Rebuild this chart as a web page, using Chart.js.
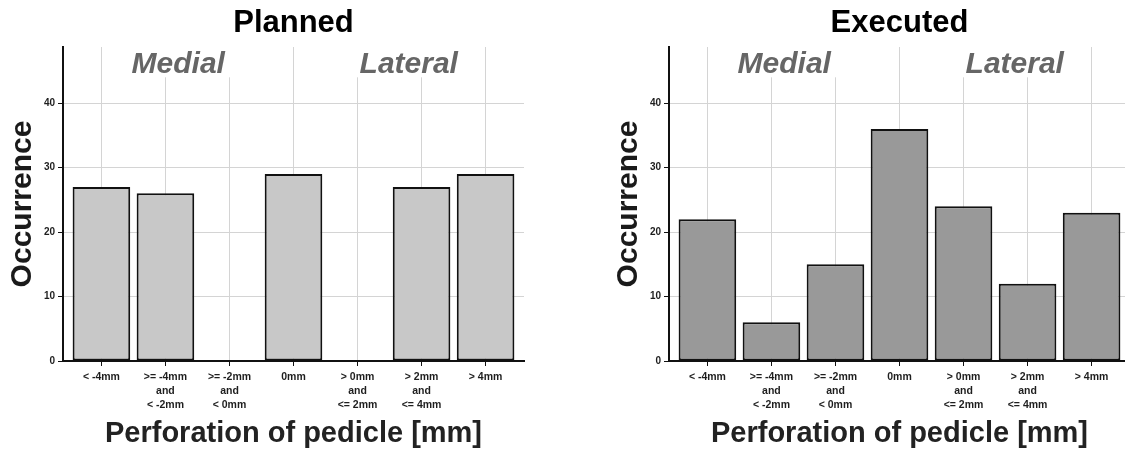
<!DOCTYPE html>
<html>
<head>
<meta charset="utf-8">
<script src="https://cdn.jsdelivr.net/npm/chart.js@4.4.1/dist/chart.umd.min.js"></script>
<style>
  html, body { margin: 0; padding: 0; background: #fff; }
  body { width: 1125px; height: 450px; overflow: hidden; position: relative; }
  .box { position: absolute; top: 0; width: 560px; height: 450px; }
</style>
</head>
<body>
<div class="box" style="left:0px"><canvas id="planned" width="560" height="450"></canvas></div>
<div class="box" style="left:606px"><canvas id="executed" width="560" height="450"></canvas></div>
<script>
// categories (one entry per bar, line breaks as \n)
var categories = ["< -4mm", ">= -4mm\nand\n< -2mm", ">= -2mm\nand\n< 0mm", "0mm",
  "> 0mm\nand\n<= 2mm", "> 2mm\nand\n<= 4mm", "> 4mm"];
var plannedValues = [27, 26, 0, 29, 0, 27, 29];
var executedValues = [22, 6, 15, 36, 24, 12, 23];
var yTicks = [0, 10, 20, 30, 40];
// group labels over the bars, centred at a category index
var regionLabels = ["Medial", "Lateral"];
var regionCenters = [1.2, 4.8];

var FONT = "'Liberation Sans', Arial, Helvetica, sans-serif";

// white box behind the group labels + the labels themselves
var regionPlugin = {
  id: "regions",
  beforeDatasetsDraw: function (chart) {
    var ctx = chart.ctx;
    var xs = chart.scales.x;
    var ys = chart.scales.y;
    var top = chart.chartArea.top;
    ctx.save();
    for (var i = 0; i < regionLabels.length; i++) {
      var x1 = xs.getPixelForValue(regionCenters[i] - 0.9);
      var x2 = xs.getPixelForValue(regionCenters[i] + 0.9);
      ctx.fillStyle = "#ffffff";
      ctx.fillRect(x1, top, x2 - x1, ys.getPixelForValue(44) - top);
      ctx.fillStyle = "#666666";
      ctx.font = "italic bold 30px " + FONT;
      ctx.textAlign = "center";
      ctx.textBaseline = "alphabetic";
      ctx.fillText(regionLabels[i], xs.getPixelForValue(regionCenters[i]), ys.getPixelForValue(44.6));
    }
    ctx.restore();
  }
};

function makeChart(id, title, values, color) {
  var points = values.map(function (v, i) { return { x: i, y: v }; });
  return new Chart(document.getElementById(id), {
    type: "bar",
    data: {
      datasets: [{
        data: points,
        backgroundColor: color,
        borderColor: "#111111",
        borderWidth: 2,
        borderSkipped: false,
        barPercentage: 0.9,
        categoryPercentage: 1
      }]
    },
    options: {
      responsive: false,
      animation: false,
      devicePixelRatio: 1,
      layout: { padding: { left: 0, right: 36, top: 0, bottom: 0 } },
      plugins: { legend: { display: false }, tooltip: { enabled: false } },
      scales: {
        x: {
          type: "linear",
          min: -0.6,
          max: 6.6,
          offset: false,
          afterBuildTicks: function (s) {
            s.ticks = categories.map(function (c, i) { return { value: i }; });
          },
          afterFit: function (s) { s.height = 89; },
          grid: { offset: false, color: "#d4d4d4", lineWidth: 1, tickColor: "#111111", tickLength: 5 },
          border: { display: true, color: "#111111", width: 2 },
          ticks: {
            autoSkip: false,
            maxRotation: 0,
            padding: 4,
            color: "#1e1e1e",
            font: { family: FONT, size: 10.5, weight: "bold", lineHeight: 1.35 },
            callback: function (v) { return categories[v].split("\n"); }
          },
          title: {
            display: true,
            text: "Perforation of pedicle [mm]",
            color: "#222222",
            padding: { top: 0, bottom: 1.5 },
            font: { family: FONT, size: 29, weight: "bold", lineHeight: 1 }
          }
        },
        top: {
          type: "linear",
          axis: "x",
          position: "top",
          afterFit: function (s) { s.height = 47; },
          grid: { display: false },
          border: { display: false },
          ticks: { display: false },
          title: {
            display: true,
            text: title,
            color: "#000000",
            padding: { top: 7.5, bottom: 0 },
            font: { family: FONT, size: 31, weight: "bold", lineHeight: 1 }
          }
        },
        y: {
          min: 0,
          max: 48.7,
          afterBuildTicks: function (s) {
            s.ticks = yTicks.map(function (v) { return { value: v }; });
          },
          afterFit: function (s) { s.width = 63; },
          grid: { color: "#d4d4d4", lineWidth: 1, tickColor: "#111111", tickLength: 5 },
          border: { display: true, color: "#111111", width: 2 },
          ticks: {
            padding: 3,
            color: "#1e1e1e",
            font: { family: FONT, size: 10, weight: "bold" }
          },
          title: {
            display: true,
            text: "Occurrence",
            color: "#1a1a1a",
            padding: { top: 8, bottom: 0 },
            font: { family: FONT, size: 30, weight: "bold", lineHeight: 1 }
          }
        }
      }
    },
    plugins: [regionPlugin]
  });
}

makeChart("planned", "Planned", plannedValues, "#c8c8c8");
makeChart("executed", "Executed", executedValues, "#999999");
</script>
</body>
</html>
